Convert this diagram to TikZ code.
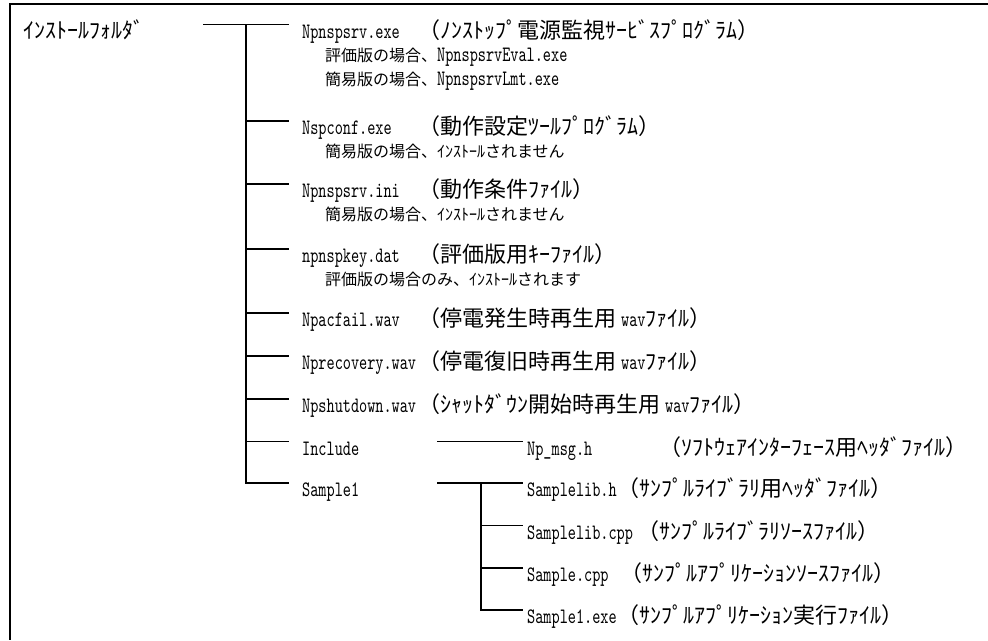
\documentclass[tikz,border=0pt]{standalone}
\usepackage{fontspec}
\usepackage{graphicx}
\newfontfamily\jp{Noto Sans CJK JP}
\newcommand\lname[1]{\scalebox{1.55}[2.2]{\ttfamily\fontsize{10}{12}\selectfont #1}}
\newcommand\jbig{\jp\fontsize{22}{26}\selectfont}
\newcommand\jsm{\jp\fontsize{16}{19}\selectfont}
\tikzset{
  fname/.style={anchor=base west, inner sep=0pt},
  dsc/.style={anchor=base west, inner sep=0pt, font=\jbig},
  subline/.style={anchor=base west, inner sep=0pt, font=\jsm},
  tree/.style={line width=1.5pt},
  frame/.style={line width=1.6pt}
}
\begin{document}
\begin{tikzpicture}[x=1pt,y=-1pt]
\useasboundingbox (0,0) rectangle (988,640);
% frame (top and left edges)
\coordinate (fTL) at (10,4);
\coordinate (fTR) at (988,4);
\coordinate (fBL) at (10,640);
\draw[frame] (fTR) -- (fTL) -- (fBL);

% root
\node[dsc] (root) at (23,38) {ｲﾝｽﾄｰﾙﾌｫﾙﾀﾞ};

% first level files
\node[fname] (f1) at (302,38) {\lname{Npnspsrv.exe}};
\node[dsc]   (d1) at (418,38) {（ﾉﾝｽﾄｯﾌﾟ電源監視ｻｰﾋﾞｽﾌﾟﾛｸﾞﾗﾑ）};
\node[subline] (s1a) at (325,61.5) {評価版の場合、\lname{NpnspsrvEval.exe}};
\node[subline] (s1b) at (325,85.5) {簡易版の場合、\lname{NpnspsrvLmt.exe}};

\node[fname] (f2) at (302,134.5) {\lname{Nspconf.exe}};
\node[dsc]   (d2) at (418,134.5) {（動作設定ﾂｰﾙﾌﾟﾛｸﾞﾗﾑ）};
\node[subline] (s2) at (325,157.5) {簡易版の場合、ｲﾝｽﾄｰﾙされません};

\node[fname] (f3) at (302,197.5) {\lname{Npnspsrv.ini}};
\node[dsc]   (d3) at (418,197.5) {（動作条件ﾌｧｲﾙ）};
\node[subline] (s3) at (325,220.5) {簡易版の場合、ｲﾝｽﾄｰﾙされません};

\node[fname] (f4) at (302,262.5) {\lname{npnspkey.dat}};
\node[dsc]   (d4) at (418,262.5) {（評価版用ｷｰﾌｧｲﾙ）};
\node[subline] (s4) at (325,285.5) {評価版の場合のみ、ｲﾝｽﾄｰﾙされます};

\node[fname] (f5) at (302,326.5) {\lname{Npacfail.wav}};
\node[dsc]   (d5) at (418,326.5) {（停電発生時再生用 \lname{wav}ﾌｧｲﾙ）};

\node[fname] (f6) at (302,369.5) {\lname{Nprecovery.wav}};
\node[dsc]   (d6) at (418,369.5) {（停電復旧時再生用 \lname{wav}ﾌｧｲﾙ）};

\node[fname] (f7) at (302,412.5) {\lname{Npshutdown.wav}};
\node[dsc]   (d7) at (418,412.5) {（ｼｬｯﾄﾀﾞｳﾝ開始時再生用 \lname{wav}ﾌｧｲﾙ）};

\node[fname] (f8) at (302,455) {\lname{Include}};
\node[fname] (f9) at (302,496.5) {\lname{Sample1}};

% second level files
\node[fname] (g1) at (527,455) {\lname{Np\_msg.h}};
\node[dsc]   (h1) at (659,455) {（ｿﾌﾄｳｪｱｲﾝﾀｰﾌｪｰｽ用ﾍｯﾀﾞﾌｧｲﾙ）};
\node[fname] (g2) at (527,496.5) {\lname{Samplelib.h}};
\node[dsc]   (h2) at (617,496.5) {（ｻﾝﾌﾟﾙﾗｲﾌﾞﾗﾘ用ﾍｯﾀﾞﾌｧｲﾙ）};
\node[fname] (g3) at (527,539) {\lname{Samplelib.cpp}};
\node[dsc]   (h3) at (637,539) {（ｻﾝﾌﾟﾙﾗｲﾌﾞﾗﾘｿｰｽﾌｧｲﾙ）};
\node[fname] (g4) at (527,581.5) {\lname{Sample.cpp}};
\node[dsc]   (h4) at (620,581.5) {（ｻﾝﾌﾟﾙｱﾌﾟﾘｹｰｼｮﾝｿｰｽﾌｧｲﾙ）};
\node[fname] (g5) at (527,623.5) {\lname{Sample1.exe}};
\node[dsc]   (h5) at (617,623.5) {（ｻﾝﾌﾟﾙｱﾌﾟﾘｹｰｼｮﾝ実行ﾌｧｲﾙ）};

% first tree connectors
\coordinate (r0) at (203,24.3);
\coordinate (v0) at (246,24.3);
\coordinate (e1) at (289,24.3);
\coordinate (v2) at (246,121);   \coordinate (e2) at (289,121);
\coordinate (v3) at (246,184);   \coordinate (e3) at (289,184);
\coordinate (v4) at (246,249);   \coordinate (e4) at (289,249);
\coordinate (v5) at (246,313);   \coordinate (e5) at (289,313);
\coordinate (v6) at (246,356);   \coordinate (e6) at (289,356);
\coordinate (v7) at (246,399);   \coordinate (e7) at (289,399);
\coordinate (v8) at (246,441.5); \coordinate (e8) at (289,441.5);
\coordinate (v9) at (246,483);   \coordinate (e9) at (289,483);
\draw[tree] (r0) -- (e1);
\draw[tree] (v0) -- (v9) -- (e9);
\foreach \i in {2,...,8} { \draw[tree] (v\i) -- (e\i); }

% second tree connectors
\coordinate (a1) at (437,441.5); \coordinate (b1) at (523,441.5);
\coordinate (a2) at (437,483);   \coordinate (w2) at (481,483);   \coordinate (b2) at (523,483);
\coordinate (w3) at (481,525.5); \coordinate (b3) at (523,525.5);
\coordinate (w4) at (481,568);   \coordinate (b4) at (523,568);
\coordinate (w5) at (481,610);   \coordinate (b5) at (523,610);
\draw[tree] (a1) -- (b1);
\draw[tree] (a2) -- (b2);
\draw[tree] (w2) -- (w5) -- (b5);
\draw[tree] (w3) -- (b3);
\draw[tree] (w4) -- (b4);
\end{tikzpicture}
\end{document}
